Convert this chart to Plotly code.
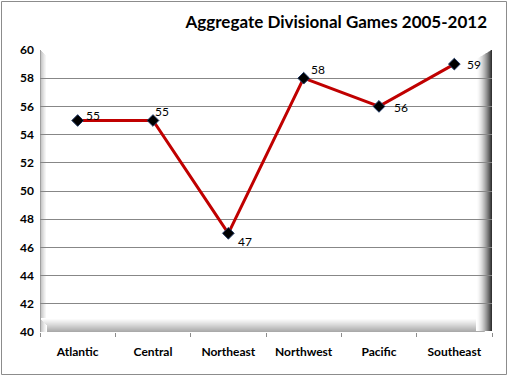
import plotly.graph_objects as go

divisions = ["Atlantic", "Central", "Northeast", "Northwest", "Pacific", "Southeast"]
games = [55, 55, 47, 58, 56, 59]
y_ticks = [40, 42, 44, 46, 48, 50, 52, 54, 56, 58, 60]

# label offsets (pixels) relative to each point, styling only
label_dx = [6, 0, 8, 5, 13, 11]
label_dy = [5, 9, -8, 9, -1, 0]

W, H = 508, 376
L, R, T, B = 40, 16, 50, 44
PW, PH = W - L - R, H - T - B

def px(x):
    return (x - L) / PW

def py(y):
    return (H - B - y) / PH

def mix(c1, c2, t):
    return "rgb(%d,%d,%d)" % tuple(round(a + (b - a) * t) for a, b in zip(c1, c2))

shapes = []
# left bevel
for i in range(7):
    c = mix((185, 185, 185), (255, 255, 255), (i / 6) ** 0.8)
    shapes.append(dict(type="rect", xref="paper", yref="paper", layer="below",
                       x0=px(40 + i), x1=px(41 + i), y0=py(332), y1=py(50 + i),
                       fillcolor=c, line_width=0))
# bottom bevel
for i in range(14):
    t = i / 13
    c = mix((255, 255, 255), (170, 170, 170), t ** 1.1)
    shapes.append(dict(type="rect", xref="paper", yref="paper", layer="below",
                       x0=px(40 + min(i, 7)), x1=px(490 - i * 0.4), y0=py(318 + i), y1=py(319 + i),
                       fillcolor=c, line_width=0))
# right bevel
for i in range(16):
    t = (i / 15) ** 1.6
    c = mix((255, 255, 255), (50, 50, 50), t)
    shapes.append(dict(type="rect", xref="paper", yref="paper", layer="below",
                       x0=px(476 + i), x1=px(477 + i), y0=py(331), y1=py(50 + (15 - i) * 0.6),
                       fillcolor=c, line_width=0))
# left edge line
shapes.append(dict(type="line", xref="paper", yref="paper", layer="below",
                   x0=px(40.5), x1=px(40.5), y0=py(332), y1=py(50),
                   line=dict(color="#a0a0a0", width=1)))
# outer border
shapes.append(dict(type="rect", xref="paper", yref="paper", layer="above",
                   x0=px(1.5), x1=px(506.5), y0=py(374.5), y1=py(1.5),
                   line=dict(color="#8c8c8c", width=1), fillcolor="rgba(0,0,0,0)"))

annotations = []
for d, v, dx, dy in zip(divisions, games, label_dx, label_dy):
    annotations.append(dict(x=d, y=v, xref="x", yref="y", text=str(v), showarrow=False,
                            xanchor="left", yanchor="middle", xshift=dx, yshift=dy,
                            font=dict(family="Lato, sans-serif", size=12, color="black")))

fig = go.Figure()
fig.add_trace(go.Scatter(
    x=divisions, y=games, mode="lines+markers",
    line=dict(color="#C00000", width=3),
    marker=dict(symbol="diamond", size=9, color="black", line=dict(color="#1f3864", width=1)),
    cliponaxis=False, hoverinfo="x+y",
))

fig.update_layout(
    width=W, height=H,
    margin=dict(l=L, r=R, t=T, b=B, autoexpand=False),
    paper_bgcolor="white", plot_bgcolor="white",
    showlegend=False,
    shapes=shapes,
    annotations=annotations,
    title=dict(text="<b>Aggregate Divisional Games 2005-2012</b>",
               x=487 / W, xanchor="right", xref="container",
               y=1 - 22 / H, yanchor="middle", yref="container",
               font=dict(family="Lato, sans-serif", size=17, color="black")),
    font=dict(family="Lato, sans-serif", color="black"),
)
fig.update_xaxes(
    type="category", range=[-0.5, 5.5], showgrid=False, automargin=False,
    showline=False, ticks="outside", tickson="boundaries", ticklen=4,
    tickcolor="#8c8c8c", ticklabelstandoff=11,
    tickfont=dict(family="Lato, sans-serif", size=12, color="black"),
    tickprefix="<b>", ticksuffix="</b>",
)
fig.update_yaxes(
    range=[40, 60], tickvals=y_ticks, ticktext=["<b>%d</b>" % v for v in y_ticks],
    showgrid=True, gridcolor="#878787", gridwidth=1, zeroline=False, automargin=False,
    showline=False, ticks="", ticklabelstandoff=5,
    tickfont=dict(family="Lato, sans-serif", size=12, color="black"),
)

fig.write_html("out.html", config={"displayModeBar": False},
               post_script="document.body.style.margin='0';")
